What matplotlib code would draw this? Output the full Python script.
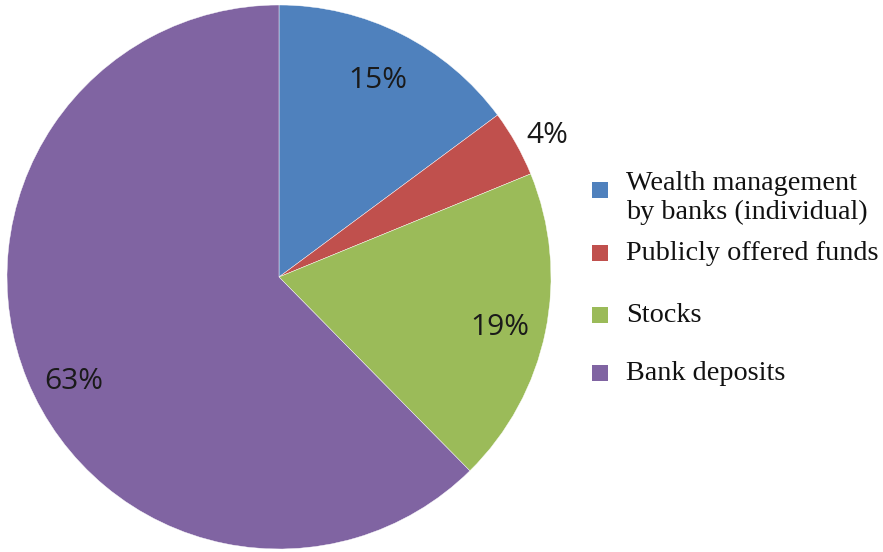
import matplotlib
matplotlib.use("Agg")
import matplotlib.pyplot as plt
from matplotlib.patches import Rectangle
import numpy as np

# Shares of household financial assets (percent)
categories = ["Wealth management\nby banks (individual)",
              "Publicly offered funds",
              "Stocks",
              "Bank deposits"]
shares = [15, 4, 19, 63]
colors = ["#4F81BD", "#C0504D", "#9BBB59", "#8064A2"]

W, H = 883, 552
fig = plt.figure(figsize=(W / 100, H / 100), dpi=100)

# Pie axes: square region on the left
cx, cy, r = 279, 277, 272
ax = fig.add_axes([(cx - r) / W, (H - cy - r) / H, 2 * r / W, 2 * r / H])
wedges, _ = ax.pie(shares, colors=colors, startangle=90, counterclock=False,
                   radius=1.0, wedgeprops=dict(linewidth=0.3, edgecolor="white"))
ax.set_xlim(-1, 1)
ax.set_ylim(-1, 1)
ax.set_aspect("equal")
ax.axis("off")

# Percentage labels: radial distance and angular nudge (degrees) per slice
label_radius = [0.82, 1.12, 0.83, 0.84]
label_nudge = [0.5, -1.0, -0.3, 4.0]
for w, v, rad, dn in zip(wedges, shares, label_radius, label_nudge):
    ang = np.deg2rad((w.theta1 + w.theta2) / 2 + dn)
    ax.text(rad * np.cos(ang), rad * np.sin(ang) - 0.014, f"{v}%",
            ha="center", va="center", fontsize=21.5, family="Open Sans",
            color="#1a1a1a", clip_on=False)

# Legend drawn by hand
marker_y = [190, 253, 315, 373]
text_y = [198, 254, 316, 374]
msize = 16
for lab, col, my, ty in zip(categories, colors, marker_y, text_y):
    fig.patches.append(Rectangle(((600 - msize / 2) / W, (H - my - msize / 2) / H),
                                 msize / W, msize / H, transform=fig.transFigure,
                                 facecolor=col, edgecolor="none"))
    fig.text(626 / W, (H - ty) / H, lab, ha="left", va="center",
             fontsize=20.3, family="Liberation Serif", color="#111111",
             linespacing=1.2)

fig.savefig("out.png", dpi=100, facecolor="white")
